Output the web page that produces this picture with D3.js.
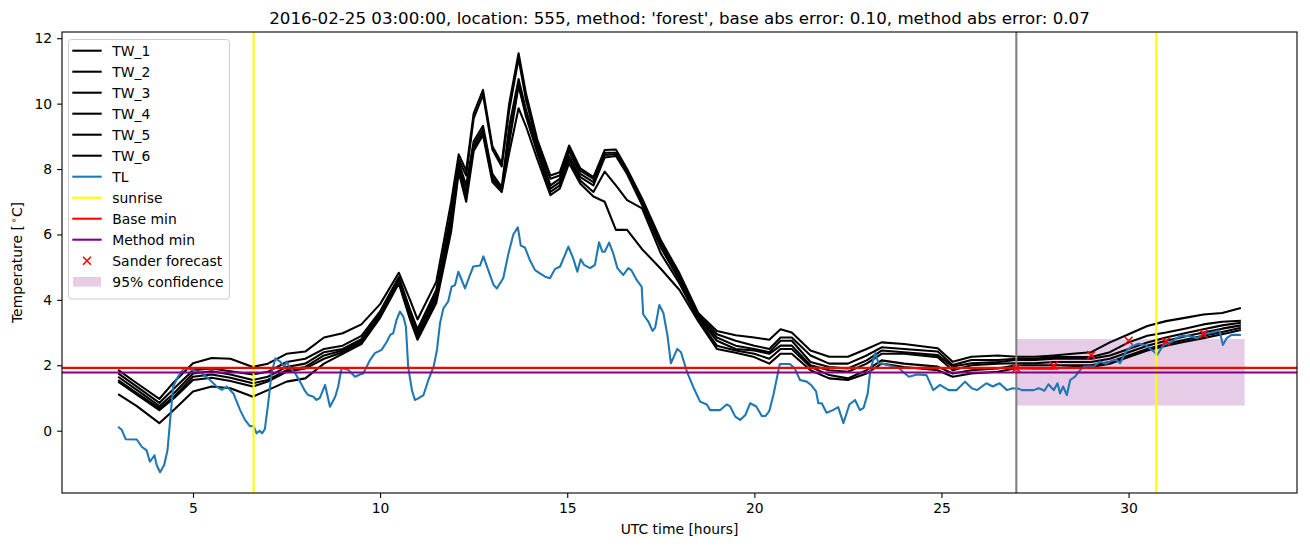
<!DOCTYPE html>
<html>
<head>
<meta charset="utf-8">
<script src="https://cdn.jsdelivr.net/npm/d3@7"></script>
<style>
  html, body { margin: 0; padding: 0; background: #fff; }
  svg { display: block; font-family: "DejaVu Sans", sans-serif; }
</style>
</head>
<body>
<svg id="chart" width="1310" height="547"></svg>
<script>
// ---------------- DATA ----------------
const titleText = "2016-02-25 03:00:00, location: 555, method: 'forest', base abs error: 0.10, method abs error: 0.07";
const xTicks = [5, 10, 15, 20, 25, 30];
const yTicks = [0, 2, 4, 6, 8, 10, 12];

// TL (air temperature) : [hour, value]
const TL = [
[3.0,0.12],[3.1,0.02],[3.2,-0.26],[3.5,-0.27],[3.63,-0.49],[3.76,-0.6],[3.85,-0.95],[3.97,-0.75],[4.03,-1.05],[4.12,-1.27],
[4.23,-1.05],[4.32,-0.59],[4.39,0.33],[4.47,1.35],[4.6,1.65],[4.76,1.91],[5.0,1.86],[5.23,1.76],[5.41,1.6],[5.63,1.35],
[5.77,1.25],[5.9,1.35],[6.08,1.14],[6.26,0.63],[6.39,0.33],[6.52,0.14],[6.62,0.14],[6.7,-0.08],[6.78,0.0],[6.85,-0.08],
[6.92,0.05],[7.01,0.84],[7.1,1.76],[7.2,2.21],[7.33,2.11],[7.44,1.96],[7.5,2.11],[7.6,1.91],[7.73,1.76],[7.86,1.5],
[8.0,1.2],[8.08,1.09],[8.22,1.04],[8.3,0.94],[8.39,1.0],[8.53,1.4],[8.66,0.73],[8.8,1.04],[8.88,1.35],[8.97,1.91],
[9.15,1.86],[9.33,1.65],[9.46,1.72],[9.55,1.75],[9.73,2.16],[9.86,2.37],[10.04,2.47],[10.18,2.72],[10.27,2.93],[10.35,2.98],
[10.44,3.39],[10.53,3.64],[10.62,3.49],[10.69,3.18],[10.75,1.96],[10.85,1.24],[10.93,0.94],[11.02,0.99],[11.16,1.09],[11.29,1.55],
[11.43,1.96],[11.52,2.47],[11.6,3.28],[11.69,3.74],[11.82,3.95],[11.91,4.4],[12.0,4.45],[12.09,4.86],[12.27,4.35],[12.4,4.76],
[12.49,5.02],[12.67,5.05],[12.76,5.33],[12.89,4.91],[13.03,4.46],[13.12,4.35],[13.29,4.66],[13.43,5.42],[13.56,6.0],[13.68,6.22],
[13.76,5.66],[13.87,5.6],[14.0,5.22],[14.14,4.91],[14.27,4.81],[14.41,4.71],[14.54,4.66],[14.67,4.94],[14.81,5.02],[14.92,5.32],
[15.03,5.63],[15.16,5.27],[15.27,4.86],[15.36,5.24],[15.45,5.07],[15.61,4.97],[15.74,5.07],[15.85,5.76],[15.94,5.47],[16.0,5.47],
[16.12,5.75],[16.23,5.42],[16.34,4.97],[16.5,4.76],[16.63,4.97],[16.71,4.91],[16.86,4.6],[16.99,4.4],[17.03,3.56],[17.17,3.33],
[17.28,3.05],[17.35,3.15],[17.46,3.84],[17.57,3.6],[17.68,2.9],[17.77,2.06],[17.94,2.5],[18.04,2.4],[18.2,1.8],[18.37,1.33],
[18.55,0.89],[18.73,0.8],[18.82,0.63],[19.09,0.63],[19.26,0.8],[19.35,0.75],[19.49,0.43],[19.62,0.33],[19.76,0.48],[19.89,0.84],
[20.05,0.74],[20.2,0.45],[20.3,0.45],[20.4,0.6],[20.51,1.1],[20.68,2.04],[20.95,2.04],[21.08,1.9],[21.22,1.55],[21.4,1.5],
[21.53,1.38],[21.65,1.2],[21.71,0.84],[21.8,0.84],[21.93,0.55],[22.1,0.63],[22.24,0.72],[22.38,0.23],[22.54,0.8],[22.69,0.94],
[22.82,0.63],[22.92,0.7],[23.03,1.14],[23.1,1.86],[23.23,2.37],[23.32,2.06],[23.5,2.03],[23.86,1.91],[24.13,1.65],[24.35,1.72],
[24.6,1.7],[24.78,1.24],[24.96,1.4],[25.19,1.24],[25.4,1.24],[25.63,1.5],[25.81,1.3],[25.95,1.24],[26.2,1.45],[26.37,1.35],
[26.55,1.45],[26.75,1.24],[26.9,1.3],[27.07,1.28],[27.15,1.24],[27.46,1.24],[27.6,1.3],[27.75,1.22],[27.86,1.42],[28.0,1.24],
[28.1,1.45],[28.17,1.14],[28.25,1.35],[28.35,1.09],[28.44,1.55],[28.57,1.65],[28.7,1.85],[28.8,1.96],[29.06,1.96],[29.24,2.11],
[29.4,2.05],[29.55,2.14],[29.68,2.16],[29.77,2.06],[29.95,2.45],[30.08,2.57],[30.26,2.66],[30.45,2.62],[30.58,2.5],[30.68,2.42],
[30.76,2.31],[30.93,2.62],[31.15,2.72],[31.33,2.86],[31.44,2.9],[31.6,2.9],[31.84,2.83],[32.0,2.96],[32.17,2.98],[32.31,3.03],
[32.43,3.06],[32.52,2.62],[32.62,2.83],[32.75,2.93],[33.0,2.93]
];

// TW (road surface) series share the same hours
const twHours = [3.0,3.5,4.1,4.5,5.0,5.5,6.0,6.6,7.0,7.5,8.0,8.5,9.0,9.5,10.0,10.5,10.8,11.0,11.5,11.9,
  12.1,12.3,12.5,12.75,13.0,13.25,13.45,13.7,13.9,14.2,14.55,14.8,15.05,15.35,15.7,16.0,16.3,16.6,17.0,17.5,
  18.0,18.5,19.0,19.5,20.0,20.4,20.7,21.0,21.5,22.0,22.5,23.0,23.4,24.0,24.9,25.3,25.8,26.5,27.0,27.5,
  28.0,28.5,29.0,29.5,30.0,30.5,31.0,31.5,32.0,32.5,33.0];
const TW_1 = [1.86,1.45,0.97,1.5,2.06,2.22,2.2,1.95,2.05,2.35,2.42,2.85,2.98,3.25,3.87,4.83,4.0,3.4,4.55,7.0,
  8.45,7.95,9.7,10.42,8.7,8.18,10.0,11.54,10.3,8.9,7.8,7.9,8.72,8.02,7.75,8.58,8.6,8.0,7.1,5.83,
  4.81,3.6,3.05,2.92,2.85,2.78,3.1,3.0,2.45,2.26,2.26,2.5,2.7,2.65,2.52,2.11,2.26,2.3,2.26,2.26,
  2.3,2.35,2.4,2.7,2.95,3.2,3.35,3.45,3.55,3.6,3.75];
const TW_2 = [1.75,1.35,0.85,1.3,1.85,1.9,1.82,1.72,1.8,2.1,2.2,2.5,2.6,2.9,3.65,4.7,3.7,3.1,4.3,6.7,
  8.3,7.8,9.55,10.27,8.6,8.08,9.8,11.38,10.1,8.8,7.7,7.8,8.6,7.95,7.7,8.5,8.5,7.95,7.0,5.75,
  4.75,3.55,2.95,2.75,2.6,2.5,2.85,2.85,2.3,2.05,2.05,2.3,2.55,2.5,2.42,2.01,2.16,2.16,2.2,2.2,
  2.25,2.25,2.25,2.4,2.7,2.9,3.0,3.12,3.25,3.33,3.36];
const TW_3 = [1.65,1.25,0.75,1.15,1.75,1.82,1.72,1.55,1.65,1.95,2.05,2.4,2.5,2.8,3.6,4.65,3.6,3.0,4.2,6.5,
  8.2,7.5,8.85,9.32,7.85,7.45,9.3,10.75,9.8,8.7,7.5,7.7,8.55,7.85,7.6,8.43,8.45,7.9,6.95,5.7,
  4.7,3.5,2.85,2.6,2.5,2.4,2.75,2.75,2.1,1.95,1.9,2.15,2.45,2.4,2.31,1.96,2.06,2.1,2.16,2.16,
  2.2,2.2,2.2,2.3,2.5,2.7,2.85,2.98,3.1,3.22,3.3];
const TW_4 = [1.55,1.15,0.68,1.05,1.65,1.72,1.62,1.45,1.55,1.85,1.95,2.3,2.45,2.75,3.55,4.6,3.5,2.95,4.1,6.4,
  8.1,7.3,8.75,9.2,7.75,7.38,9.0,10.6,9.7,8.6,7.4,7.6,8.4,7.75,7.5,8.35,8.4,7.85,6.9,5.6,
  4.6,3.45,2.75,2.5,2.45,2.35,2.6,2.6,2.0,1.85,1.8,2.05,2.35,2.35,2.25,1.85,2.0,2.05,2.06,2.06,
  2.1,2.1,2.1,2.2,2.4,2.6,2.75,2.88,3.0,3.12,3.22];
const TW_5 = [1.5,1.1,0.63,1.0,1.55,1.62,1.52,1.35,1.5,1.8,1.9,2.2,2.4,2.7,3.5,4.55,3.45,2.85,4.0,6.3,
  8.0,7.2,8.65,9.1,7.7,7.33,8.8,10.55,9.6,8.5,7.3,7.5,8.3,7.65,7.3,7.92,7.5,7.05,6.8,5.42,
  4.5,3.4,2.6,2.45,2.35,2.2,2.5,2.5,1.95,1.7,1.6,1.85,2.15,2.05,1.96,1.75,1.85,1.9,2.0,2.0,
  2.0,2.0,2.0,2.1,2.3,2.5,2.65,2.78,2.9,3.02,3.15];
const TW_6 = [1.12,0.75,0.23,0.65,1.2,1.35,1.3,1.04,1.24,1.5,1.6,2.05,2.35,2.65,3.45,4.5,3.4,2.78,3.9,6.1,
  7.9,7.0,8.55,9.04,7.6,7.3,8.5,9.86,9.3,8.3,7.2,7.4,8.18,7.55,7.16,7.0,6.14,6.14,5.55,4.95,
  4.3,3.35,2.5,2.38,2.25,2.05,2.35,2.35,1.85,1.6,1.55,1.75,2.05,1.95,1.85,1.65,1.75,1.8,1.91,1.9,
  1.9,1.95,1.95,2.05,2.25,2.45,2.6,2.72,2.83,2.95,3.08];
const twSeries = [TW_1, TW_2, TW_3, TW_4, TW_5, TW_6];

const sunriseHours = [6.62, 30.74];
const forecastStart = 27.0;
const baseMin = 1.92;
const methodMin = 1.78;
const sanderHours = [27, 28, 29, 30, 31, 32];
const sanderValues = [1.91, 1.99, 2.31, 2.75, 2.73, 2.96];
const confHours = [27.0, 33.1];
const confRange = [0.77, 2.80];

const legendLabels = ["TW_1","TW_2","TW_3","TW_4","TW_5","TW_6","TL","sunrise","Base min","Method min","Sander forecast","95% confidence"];

// ---------------- CHART ----------------
const svg = d3.select("#chart");
const L = 62, R = 1297, T = 32, B = 493;
const LW = 2.08;
const FS = "13.9px";
const x = d3.scaleLinear().domain([1.5, 34.5]).range([L, R]);
const y = d3.scaleLinear().domain([-1.905, 12.19]).range([B, T]);

const defs = svg.append("defs");
defs.append("clipPath").attr("id", "clip").append("rect")
  .attr("x", L).attr("y", T).attr("width", R - L).attr("height", B - T);

const plot = svg.append("g").attr("clip-path", "url(#clip)");

// confidence band
plot.append("rect")
  .attr("x", x(confHours[0])).attr("width", x(confHours[1]) - x(confHours[0]))
  .attr("y", y(confRange[1])).attr("height", y(confRange[0]) - y(confRange[1]))
  .attr("fill", "#800080").attr("fill-opacity", 0.2);

// TW lines
const line = d3.line().x(d => x(d[0])).y(d => y(d[1]));
twSeries.forEach(s => {
  plot.append("path")
    .datum(twHours.map((h, i) => [h, s[i]]))
    .attr("d", line).attr("fill", "none").attr("stroke", "#000")
    .attr("stroke-width", LW).attr("stroke-linejoin", "round");
});

// TL
plot.append("path").datum(TL).attr("d", line)
  .attr("fill", "none").attr("stroke", "#1f77b4").attr("stroke-width", LW)
  .attr("stroke-linejoin", "round");

// forecast start (gray)
plot.append("line").attr("x1", x(forecastStart)).attr("x2", x(forecastStart))
  .attr("y1", T).attr("y2", B).attr("stroke", "#808080").attr("stroke-width", LW);

// sunrise
sunriseHours.forEach(h => {
  plot.append("line").attr("x1", x(h)).attr("x2", x(h)).attr("y1", T).attr("y2", B)
    .attr("stroke", "#ffff00").attr("stroke-width", LW);
});

// base / method min
plot.append("line").attr("x1", L).attr("x2", R).attr("y1", y(baseMin)).attr("y2", y(baseMin))
  .attr("stroke", "#ff0000").attr("stroke-width", LW);
plot.append("line").attr("x1", L).attr("x2", R).attr("y1", y(methodMin)).attr("y2", y(methodMin))
  .attr("stroke", "#800080").attr("stroke-width", LW);

// sander forecast
const xMark = "M-4,-4L4,4M-4,4L4,-4";
sanderHours.forEach((h, i) => {
  plot.append("path").attr("d", xMark)
    .attr("transform", `translate(${x(h)},${y(sanderValues[i])})`)
    .attr("stroke", "#ff0000").attr("stroke-width", 1.6).attr("fill", "none");
});

// axes
const xAxis = svg.append("g").attr("transform", `translate(0,${B})`)
  .call(d3.axisBottom(x).tickValues(xTicks).tickSize(4.9).tickPadding(4.9).tickFormat(d3.format("d")));
const yAxis = svg.append("g").attr("transform", `translate(${L},0)`)
  .call(d3.axisLeft(y).tickValues(yTicks).tickSize(4.9).tickPadding(4.9).tickFormat(d3.format("d")));
[xAxis, yAxis].forEach(a => {
  a.select(".domain").remove();
  a.selectAll("line").attr("stroke", "#000").attr("stroke-width", 1.1);
  a.selectAll("text").attr("fill", "#000").style("font-size", FS).style("font-family", "DejaVu Sans");
});

// frame
svg.append("rect").attr("x", L).attr("y", T).attr("width", R - L).attr("height", B - T)
  .attr("fill", "none").attr("stroke", "#000").attr("stroke-width", 1.1);

// labels
svg.append("text").attr("x", (L + R) / 2).attr("y", 23.5).attr("text-anchor", "middle")
  .style("font-size", "16.67px").text(titleText);
svg.append("text").attr("x", (L + R) / 2).attr("y", 534).attr("text-anchor", "middle")
  .style("font-size", FS).text("UTC time [hours]");
const yl = svg.append("text").attr("transform", `translate(22,${(T + B) / 2}) rotate(-90)`)
  .attr("text-anchor", "middle").style("font-size", FS);
yl.append("tspan").text("Temperature [");
yl.append("tspan").attr("dx", 2).attr("dy", -5).style("font-size", "9.7px").text("∘");
yl.append("tspan").attr("dy", 5).text("C]");

// legend
const lg = svg.append("g");
lg.append("rect").attr("x", 68.5).attr("y", 39.5).attr("width", 161).attr("height", 259.5)
  .attr("rx", 3).attr("fill", "#fff").attr("fill-opacity", 0.8)
  .attr("stroke", "#cccccc").attr("stroke-width", 1);
const legendStyles = [
  {t:"line", c:"#000"},{t:"line", c:"#000"},{t:"line", c:"#000"},{t:"line", c:"#000"},{t:"line", c:"#000"},{t:"line", c:"#000"},
  {t:"line", c:"#1f77b4"},{t:"line", c:"#ffff00"},{t:"line", c:"#ff0000"},{t:"line", c:"#800080"},
  {t:"x", c:"#ff0000"},{t:"patch", c:"#800080"}
];
legendLabels.forEach((lab, i) => {
  const cy = 50.7 + i * 21.0;
  const st = legendStyles[i];
  if (st.t === "line") {
    lg.append("line").attr("x1", 72.3).attr("x2", 101.7).attr("y1", cy).attr("y2", cy)
      .attr("stroke", st.c).attr("stroke-width", LW);
  } else if (st.t === "x") {
    lg.append("path").attr("d", xMark).attr("transform", `translate(87,${cy})`)
      .attr("stroke", st.c).attr("stroke-width", 1.6).attr("fill", "none");
  } else {
    lg.append("rect").attr("x", 73).attr("y", cy - 4.8).attr("width", 28).attr("height", 9.7)
      .attr("fill", st.c).attr("fill-opacity", 0.2);
  }
  lg.append("text").attr("x", 112.3).attr("y", cy).attr("dy", "0.36em")
    .style("font-size", FS).text(lab);
});
</script>
</body>
</html>
